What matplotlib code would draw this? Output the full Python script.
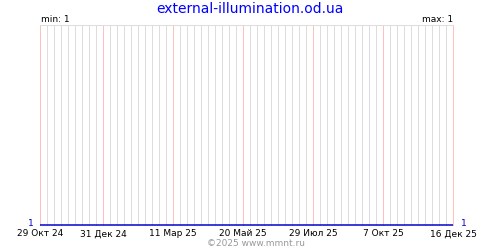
import matplotlib
matplotlib.use("Agg")
import matplotlib.pyplot as plt
import datetime as dt

# данные
title = "external-illumination.od.ua"
dates = [dt.date(2024, 10, 29), dt.date(2025, 12, 16)]
values = [1, 1]
tick_dates = [dt.date(2024, 10, 29), dt.date(2024, 12, 31), dt.date(2025, 3, 11),
              dt.date(2025, 5, 20), dt.date(2025, 7, 29), dt.date(2025, 10, 7),
              dt.date(2025, 12, 16)]
tick_labels = ["29 Окт 24", "31 Дек 24", "11 Мар 25", "20 Май 25",
               "29 Июл 25", "7 Окт 25", "16 Дек 25"]
v_min = min(values)
v_max = max(values)

px = 72 / 100  # один пиксель в пунктах

fig = plt.figure(figsize=(5, 2.5), dpi=100)
ax = fig.add_axes([40 / 500, 0.1, 413 / 500, 0.8])

# недельная сетка
week = dates[0]
while week <= dates[-1]:
    if week not in tick_dates:
        ax.axvline(week, color="#dddddd", lw=px, zorder=1, snap=True, clip_on=False)
    week += dt.timedelta(days=7)
for d in tick_dates:
    ax.axvline(d, color="#ffc0c0", lw=px, zorder=2, snap=True, clip_on=False)
ax.axhline(v_min + 1, color="#dddddd", lw=px, zorder=2, snap=True, clip_on=False)

ax.plot(dates, values, color="#0000cc", lw=1.5 * px, zorder=3, solid_capstyle="butt",
        snap=True, clip_on=False)

ax.set_xlim(dates[0], dates[-1])
ax.set_ylim(v_min, v_min + 1)
ax.set_xticks(tick_dates)
ax.set_xticklabels(tick_labels, fontsize=6.5)
ax.tick_params(axis="x", length=0, pad=3)
ax.set_yticks([])
for s in ax.spines.values():
    s.set_visible(False)

fig.text(0.5, 0.965, title, color="#0000ff", fontsize=10, ha="center", va="center")
fig.text(41 / 500, 1 - 19 / 250, "min: {}".format(v_min), fontsize=6.5, ha="left", va="center")
fig.text(453 / 500, 1 - 19 / 250, "max: {}".format(v_max), fontsize=6.5, ha="right", va="center")
fig.text(31 / 500, 1 - 223 / 250, str(v_min), color="#0000cc", fontsize=6.5, ha="center", va="center")
fig.text(464 / 500, 1 - 223 / 250, str(v_max), color="#0000cc", fontsize=6.5, ha="center", va="center")
fig.text(256 / 500, 1 - 243 / 250, "©2025 www.mmnt.ru", color="#999999", fontsize=6.5, ha="center", va="center")

fig.savefig("out.png", dpi=100)
